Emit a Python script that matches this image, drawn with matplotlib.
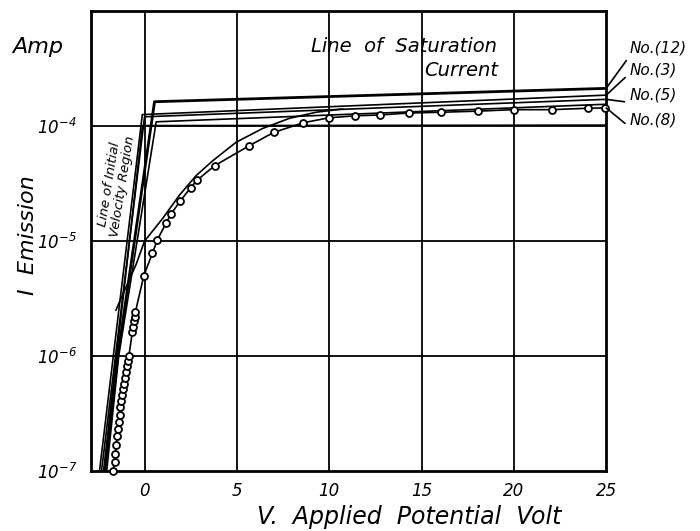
import matplotlib
matplotlib.use("Agg")
import matplotlib.pyplot as plt
import numpy as np

plt.rcParams['font.family'] = 'DejaVu Sans'
plt.rcParams['mathtext.fontset'] = 'custom'
plt.rcParams['mathtext.rm'] = 'DejaVu Sans:italic'
plt.rcParams['mathtext.it'] = 'DejaVu Sans:italic'
plt.rcParams['mathtext.default'] = 'it'

# measured points (circles), tube No.(8)
V_circ = [-1.72, -1.62, -1.59, -1.53, -1.48, -1.44, -1.41, -1.35, -1.31, -1.26,
          -1.23, -1.17, -1.12, -1.04, -0.99, -0.94, -0.90, -0.85, -0.66, -0.62,
          -0.58, -0.54, -0.50, -0.04, 0.42, 0.70, 1.17, 1.44, 1.93, 2.49,
          2.85, 3.79, 5.63, 6.99, 8.60, 9.97, 11.42, 12.75, 14.30, 16.06,
          18.06, 19.98, 22.04, 23.99, 24.95]
I_circ = [1.0e-7, 1.2e-7, 1.41e-7, 1.7e-7, 2.0e-7, 2.34e-7, 2.69e-7, 3.09e-7, 3.63e-7, 4.07e-7,
          4.57e-7, 5.13e-7, 5.75e-7, 6.46e-7, 7.24e-7, 8.13e-7, 9.12e-7, 1.0e-6, 1.62e-6, 1.8e-6,
          2.0e-6, 2.19e-6, 2.4e-6, 5.0e-6, 7.8e-6, 1.03e-5, 1.44e-5, 1.72e-5, 2.23e-5, 2.9e-5,
          3.39e-5, 4.52e-5, 6.7e-5, 8.81e-5, 1.07e-4, 1.18e-4, 1.23e-4, 1.25e-4, 1.3e-4, 1.32e-4,
          1.35e-4, 1.39e-4, 1.39e-4, 1.43e-4, 1.44e-4]

# smooth curve without markers
V_smooth = [-1.55, -1.0, -0.45, 0.0, 0.99, 1.89, 2.80, 3.70, 4.96, 6.40, 7.85, 9.29, 10.73]
I_smooth = [2.51e-6, 3.98e-6, 6.31e-6, 1.0e-5, 1.58e-5, 2.51e-5, 3.72e-5, 5.01e-5,
            7.24e-5, 9.55e-5, 1.17e-4, 1.32e-4, 1.41e-4]

# initial velocity + saturation lines
V_12 = [-2.15, -1.45, 0.54, 25]
I_12 = [1e-7, 1e-6, 1.63e-4, 2.13e-4]
V_3 = [-2.44, -0.12, 25]
I_3 = [1e-7, 1.26e-4, 1.86e-4]
V_5 = [-2.33, 0.0, 25]
I_5 = [1e-7, 1.205e-4, 1.71e-4]
V_d = [-2.05, -1.4, 0.63, 25]
I_d = [1e-7, 1e-6, 1.09e-4, 1.55e-4]
V_e = [-2.22, -0.11, 25]
I_e = [1e-7, 1.01e-4, 1.02e-4]

xticks = [0, 5, 10, 15, 20, 25]
yticks = [1e-7, 1e-6, 1e-5, 1e-4]
ytick_labels = ['$10^{-7}$', '$10^{-6}$', '$10^{-5}$', '$10^{-4}$']

fig = plt.figure(figsize=(7, 5.31), dpi=100)
ax = fig.add_axes([0.13, 0.113, 0.736, 0.866])
ax.set_yscale('log')
ax.set_xlim(-2.9, 25)
ax.set_ylim(1e-7, 1e-3)

for v in [0, 5, 10, 15, 20]:
    ax.axvline(v, color='k', lw=1.3, zorder=1)
for y in [1e-6, 1e-5, 1e-4]:
    ax.axhline(y, color='k', lw=1.3, zorder=1)

ax.plot(V_12, I_12, color='k', lw=2.0)
ax.plot(V_3, I_3, color='k', lw=1.2)
ax.plot(V_5, I_5, color='k', lw=1.2)
ax.plot(V_d, I_d, color='k', lw=1.2)
ax.plot(V_e, I_e, color='k', lw=1.2)
ax.plot(V_smooth, I_smooth, color='k', lw=1.2)
ax.plot(V_circ, I_circ, color='k', lw=1.2, marker='o', markersize=5,
        markerfacecolor='white', markeredgewidth=1.3, clip_on=False, zorder=3)

for s in ax.spines.values():
    s.set_linewidth(2)
ax.set_xticks(xticks)
ax.set_xticklabels([str(t) for t in xticks], fontstyle='italic', fontsize=12)
ax.set_yticks(yticks)
ax.set_yticklabels(ytick_labels, fontsize=12)
ax.yaxis.set_minor_locator(matplotlib.ticker.NullLocator())
ax.tick_params(axis='x', length=0, pad=8)
ax.tick_params(axis='y', length=0, pad=10)

fig.text(38 / 700, 1 - 47 / 531, 'Amp', fontsize=16, fontstyle='italic',
         ha='center', va='center')
fig.text(28 / 700, 1 - 235 / 531, 'I  Emission', fontsize=16, fontstyle='italic',
         rotation=90, ha='center', va='center')
fig.text(409 / 700, 1 - 517 / 531, 'V.  Applied  Potential  Volt', fontsize=17,
         fontstyle='italic', ha='center', va='center')
fig.text(404 / 700, 1 - 47 / 531, 'Line  of  Saturation', fontsize=14,
         fontstyle='italic', ha='center', va='center')
fig.text(461 / 700, 1 - 70 / 531, 'Current', fontsize=14,
         fontstyle='italic', ha='center', va='center')
fig.text(116 / 700, 1 - 185 / 531, 'Line of Initial\nVelocity Region', fontsize=9.5,
         fontstyle='italic', rotation=81, ha='center', va='center',
         rotation_mode='anchor', linespacing=1.1)

labels = ['No.(12)', 'No.(3)', 'No.(5)', 'No.(8)']
ends = [(25, I_12[-1]), (25, I_3[-1]), (25, I_5[-1]), (25, I_circ[-1])]
text_pos = [(630, 531 - 48), (630, 531 - 70), (630, 531 - 95), (630, 531 - 120)]
rel = [(0, 0), (0, 0.3), (0, 0), (0, 0)]
for lab, xy, tp, rp in zip(labels, ends, text_pos, rel):
    ax.annotate(lab, xy=xy, xytext=tp, textcoords='figure pixels',
                fontsize=11, fontstyle='italic', ha='left', va='center',
                arrowprops=dict(arrowstyle='-', color='k', lw=1.2,
                                shrinkA=2, shrinkB=0, relpos=rp))

fig.savefig('out.png', dpi=100)
